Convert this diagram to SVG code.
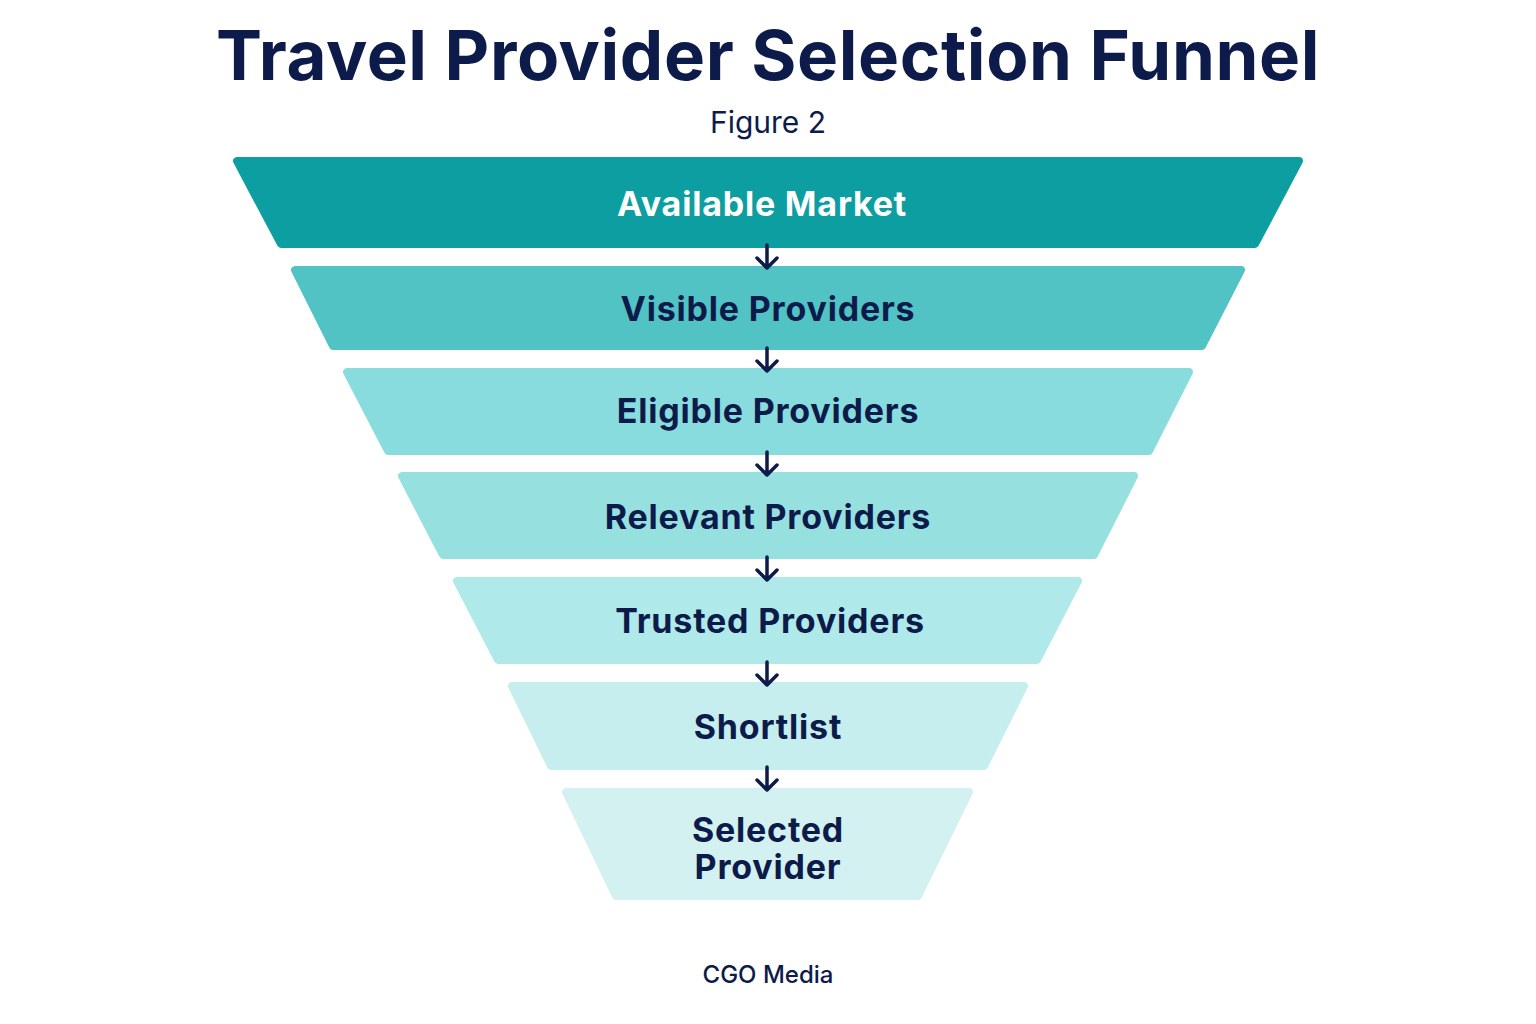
<svg xmlns="http://www.w3.org/2000/svg" width="1536" height="1024" viewBox="0 0 1536 1024">
<style>
.t{font-family:Inter,"Noto Sans",sans-serif;font-weight:700;text-anchor:middle}
.lbl{font-family:Inter,"Noto Sans",sans-serif;font-weight:700;font-size:34px;letter-spacing:0.8px;fill:#0d1b4a;text-anchor:middle}
.s{stroke-linejoin:round;stroke-width:8}
.a{stroke:#0d1b4a;stroke-width:3.5;fill:none;stroke-linecap:round;stroke-linejoin:round}
</style>
<rect width="1536" height="1024" fill="#ffffff"/>
<text class="t" x="768" y="80" font-size="69" letter-spacing="0.6" fill="#0d1b4a">Travel Provider Selection Funnel</text>
<text x="768" y="133" font-family="Inter,'Noto Sans',sans-serif" font-size="30" fill="#0d1b4a" text-anchor="middle">Figure 2</text>
<g id="n1"><polygon class="s" points="237,161 1299,161 1255,244 281,244" fill="#0c9ea0" stroke="#0c9ea0"/><text class="lbl" x="762" y="216" style="fill:#fff">Available Market</text></g>
<g id="n2"><polygon class="s" points="295,270 1241,270 1202,346 333,346" fill="#52c3c4" stroke="#52c3c4"/><text class="lbl" x="768" y="321">Visible Providers</text></g>
<g id="n3"><polygon class="s" points="347,372 1189,372 1149,451 388,451" fill="#88dcdd" stroke="#88dcdd"/><text class="lbl" x="768" y="423">Eligible Providers</text></g>
<g id="n4"><polygon class="s" points="402,476 1134,476 1094,555 443,555" fill="#97e0e0" stroke="#97e0e0"/><text class="lbl" x="768" y="529">Relevant Providers</text></g>
<g id="n5"><polygon class="s" points="457,581 1078,581 1037,660 498,660" fill="#b0e9e9" stroke="#b0e9e9"/><text class="lbl" x="770" y="633">Trusted Providers</text></g>
<g id="n6"><polygon class="s" points="512,686 1024,686 984,766 551,766" fill="#c6eeee" stroke="#c6eeee"/><text class="lbl" x="768" y="739">Shortlist</text></g>
<g id="n7"><polygon class="s" points="566,792 969,792 918,896 616,896" fill="#d3f1f1" stroke="#d3f1f1"/><text class="lbl" x="768" y="842">Selected</text><text class="lbl" x="768" y="879">Provider</text></g>
<g id="connectors">
<path class="a" d="M767 245V268M757 258L767 268L777 258"/>
<path class="a" d="M767 348V371M757 361L767 371L777 361"/>
<path class="a" d="M767 452V475M757 465L767 475L777 465"/>
<path class="a" d="M767 557V580M757 570L767 580L777 570"/>
<path class="a" d="M767 662V685M757 675L767 685L777 675"/>
<path class="a" d="M767 767V790M757 780L767 790L777 780"/>
</g>
<text x="768" y="983" font-family="Inter,'Noto Sans',sans-serif" font-size="24" font-weight="500" fill="#0d1b4a" text-anchor="middle">CGO Media</text>
</svg>
